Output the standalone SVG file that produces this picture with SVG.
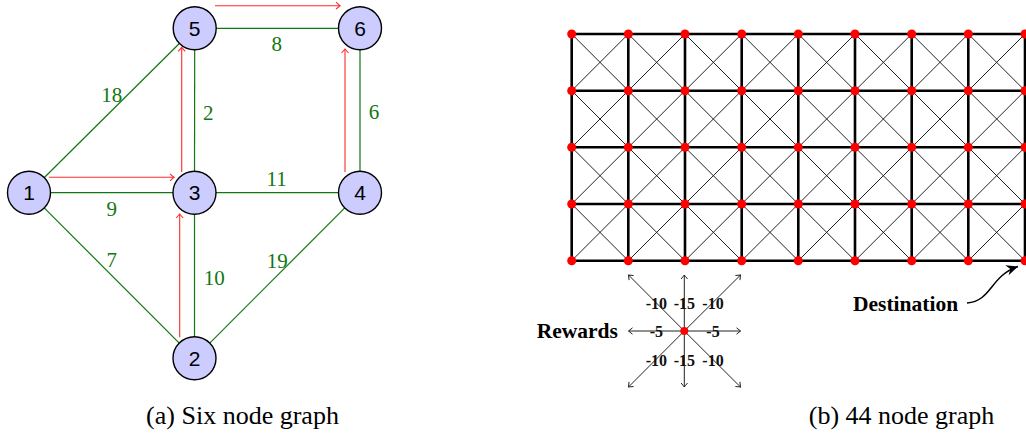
<svg xmlns="http://www.w3.org/2000/svg" width="1026" height="436" viewBox="0 0 1026 436">
<style>
.edge{stroke:#117711;stroke-width:1.2;fill:none}
.red{stroke:#ff2a2a;stroke-width:1.1;fill:none;marker-end:url(#ra)}
.node circle{fill:#ccccff;stroke:#000;stroke-width:1.4}
.node text{font-family:"Liberation Sans",Arial,sans-serif;font-size:21px;text-anchor:middle;fill:#000}
.elabel{font-family:"Liberation Serif","Times New Roman",serif;font-size:21px;fill:#117711;text-anchor:middle}
.thick{stroke:#000;stroke-width:2.6;fill:none}
.diag{stroke:#222;stroke-width:1;fill:none}
.dot{fill:#ff0000}
.rw{stroke:#222;stroke-width:1;fill:none;marker-end:url(#ka)}
.rl{font-family:"Liberation Serif","Times New Roman",serif;font-weight:bold;font-size:16px;text-anchor:middle;fill:#111}
.big{font-family:"Liberation Serif","Times New Roman",serif;font-weight:bold;font-size:21.5px;fill:#000}
.cap{font-family:"Liberation Serif","Times New Roman",serif;font-size:26px;text-anchor:middle;fill:#000}
</style>
<defs>
<marker id="ra" markerUnits="userSpaceOnUse" markerWidth="10" markerHeight="10" viewBox="-6 -5 7 10" refX="0" refY="0" orient="auto">
<path d="M-4,-3.5 Q-1,-0.8 0,0 Q-1,0.8 -4,3.5" fill="none" stroke="#ff2a2a" stroke-width="1.1"/>
</marker>
<marker id="ka" markerUnits="userSpaceOnUse" markerWidth="10" markerHeight="10" viewBox="-6 -5 7 10" refX="0" refY="0" orient="auto">
<path d="M-4,-3.2 Q-1,-0.8 0,0 Q-1,0.8 -4,3.2" fill="none" stroke="#222" stroke-width="1"/>
</marker>
<marker id="sa" markerUnits="userSpaceOnUse" markerWidth="14" markerHeight="14" viewBox="-10 -6 11 12" refX="0" refY="0" orient="auto">
<path d="M0,0 L-10,-4.5 L-7,0 L-10,4.5 Z" fill="#000"/>
</marker>
</defs>

<g id="connectors">
<line class="edge" x1="29" y1="192.7" x2="194.7" y2="28.3"/>
<line class="edge" x1="29" y1="192.7" x2="194.5" y2="192.7"/>
<line class="edge" x1="194.7" y1="28.3" x2="194.5" y2="192.7"/>
<line class="edge" x1="194.7" y1="28.3" x2="360" y2="28.3"/>
<line class="edge" x1="360" y1="28.3" x2="360" y2="192.7"/>
<line class="edge" x1="194.5" y1="192.7" x2="360" y2="192.7"/>
<line class="edge" x1="29" y1="192.7" x2="194.5" y2="358.3"/>
<line class="edge" x1="194.5" y1="192.7" x2="194.5" y2="358.3"/>
<line class="edge" x1="360" y1="192.7" x2="194.5" y2="358.3"/>
<line class="red" x1="49" y1="177.3" x2="174" y2="177.3"/>
<line class="red" x1="181.7" y1="172" x2="181.7" y2="47.3"/>
<line class="red" x1="215" y1="5.7" x2="340" y2="5.7"/>
<line class="red" x1="345" y1="172" x2="345" y2="49"/>
<line class="red" x1="179.7" y1="337.3" x2="179.7" y2="214"/>
</g>
<g id="edge-labels">
<text class="elabel" x="111.7" y="102.2">18</text>
<text class="elabel" x="208.3" y="120">2</text>
<text class="elabel" x="276.7" y="50.5">8</text>
<text class="elabel" x="374" y="119">6</text>
<text class="elabel" x="276.7" y="185.5">11</text>
<text class="elabel" x="111.7" y="215.5">9</text>
<text class="elabel" x="111.7" y="267">7</text>
<text class="elabel" x="214.3" y="284.5">10</text>
<text class="elabel" x="277.3" y="268">19</text>
</g>
<g id="node1" class="node"><circle cx="29" cy="192.7" r="21.5"/><text x="29" y="200.2">1</text></g>
<g id="node2" class="node"><circle cx="194.5" cy="358.3" r="21.5"/><text x="194.5" y="365.8">2</text></g>
<g id="node3" class="node"><circle cx="194.5" cy="192.7" r="21.5"/><text x="194.5" y="200.2">3</text></g>
<g id="node4" class="node"><circle cx="360" cy="192.7" r="21.5"/><text x="360" y="200.2">4</text></g>
<g id="node5" class="node"><circle cx="194.7" cy="28.3" r="21.5"/><text x="194.7" y="35.8">5</text></g>
<g id="node6" class="node"><circle cx="360" cy="28.3" r="21.5"/><text x="360" y="35.8">6</text></g>

<g id="grid">
<g class="diag">
<path d="M571.7,34 L798.3,260.7 M628.3,34 L855,260.7 M685,34 L911.7,260.7 M741.7,34 L968.3,260.7 M798.3,34 L1025,260.7 M855,34 L1025,204 M911.7,34 L1025,147.3 M968.3,34 L1025,90.7 M571.7,90.7 L741.7,260.7 M571.7,147.3 L685,260.7 M571.7,204 L628.3,260.7"/>
<path d="M1025,34 L798.3,260.7 M968.3,34 L741.7,260.7 M911.7,34 L685,260.7 M855,34 L628.3,260.7 M798.3,34 L571.7,260.7 M741.7,34 L571.7,204 M685,34 L571.7,147.3 M628.3,34 L571.7,90.7 M1025,90.7 L855,260.7 M1025,147.3 L911.7,260.7 M1025,204 L968.3,260.7"/>
</g>
<g class="thick">
<path d="M571.7,34 H1026 M571.7,90.7 H1026 M571.7,147.3 H1026 M571.7,204 H1026 M571.7,260.7 H1026"/>
<path d="M571.7,34 V260.7 M628.3,34 V260.7 M685,34 V260.7 M741.7,34 V260.7 M798.3,34 V260.7 M855,34 V260.7 M911.7,34 V260.7 M968.3,34 V260.7 M1025,34 V260.7"/>
</g>
<g class="dot">
<circle cx="571.7" cy="34" r="4.5"/><circle cx="628.3" cy="34" r="4.5"/><circle cx="685" cy="34" r="4.5"/><circle cx="741.7" cy="34" r="4.5"/><circle cx="798.3" cy="34" r="4.5"/><circle cx="855" cy="34" r="4.5"/><circle cx="911.7" cy="34" r="4.5"/><circle cx="968.3" cy="34" r="4.5"/><circle cx="1025" cy="34" r="4.5"/>
<circle cx="571.7" cy="90.7" r="4.5"/><circle cx="628.3" cy="90.7" r="4.5"/><circle cx="685" cy="90.7" r="4.5"/><circle cx="741.7" cy="90.7" r="4.5"/><circle cx="798.3" cy="90.7" r="4.5"/><circle cx="855" cy="90.7" r="4.5"/><circle cx="911.7" cy="90.7" r="4.5"/><circle cx="968.3" cy="90.7" r="4.5"/><circle cx="1025" cy="90.7" r="4.5"/>
<circle cx="571.7" cy="147.3" r="4.5"/><circle cx="628.3" cy="147.3" r="4.5"/><circle cx="685" cy="147.3" r="4.5"/><circle cx="741.7" cy="147.3" r="4.5"/><circle cx="798.3" cy="147.3" r="4.5"/><circle cx="855" cy="147.3" r="4.5"/><circle cx="911.7" cy="147.3" r="4.5"/><circle cx="968.3" cy="147.3" r="4.5"/><circle cx="1025" cy="147.3" r="4.5"/>
<circle cx="571.7" cy="204" r="4.5"/><circle cx="628.3" cy="204" r="4.5"/><circle cx="685" cy="204" r="4.5"/><circle cx="741.7" cy="204" r="4.5"/><circle cx="798.3" cy="204" r="4.5"/><circle cx="855" cy="204" r="4.5"/><circle cx="911.7" cy="204" r="4.5"/><circle cx="968.3" cy="204" r="4.5"/><circle cx="1025" cy="204" r="4.5"/>
<circle cx="571.7" cy="260.7" r="4.5"/><circle cx="628.3" cy="260.7" r="4.5"/><circle cx="685" cy="260.7" r="4.5"/><circle cx="741.7" cy="260.7" r="4.5"/><circle cx="798.3" cy="260.7" r="4.5"/><circle cx="855" cy="260.7" r="4.5"/><circle cx="911.7" cy="260.7" r="4.5"/><circle cx="968.3" cy="260.7" r="4.5"/><circle cx="1025" cy="260.7" r="4.5"/>
</g>
</g>

<g id="rewards">
<line class="rw" x1="684.3" y1="331" x2="628.5" y2="331"/>
<line class="rw" x1="684.3" y1="331" x2="740.5" y2="331"/>
<line class="rw" x1="684.3" y1="331" x2="684.3" y2="275"/>
<line class="rw" x1="684.3" y1="331" x2="684.3" y2="387"/>
<line class="rw" x1="684.3" y1="331" x2="628.5" y2="275"/>
<line class="rw" x1="684.3" y1="331" x2="740.5" y2="275"/>
<line class="rw" x1="684.3" y1="331" x2="628.5" y2="387"/>
<line class="rw" x1="684.3" y1="331" x2="740.5" y2="387"/>
<circle class="dot" cx="684.3" cy="331" r="4"/>
<text class="rl" x="656.3" y="309">-10</text>
<text class="rl" x="684.3" y="309">-15</text>
<text class="rl" x="713" y="309">-10</text>
<text class="rl" x="656.3" y="337">-5</text>
<text class="rl" x="713" y="337">-5</text>
<text class="rl" x="656.3" y="365.7">-10</text>
<text class="rl" x="684.3" y="365.7">-15</text>
<text class="rl" x="713" y="365.7">-10</text>
<text class="big" x="536.7" y="338">Rewards</text>
</g>

<g id="destination">
<text class="big" x="853" y="310.7">Destination</text>
<path d="M967,303 C992,301 990,276 1018,266.5" fill="none" stroke="#000" stroke-width="1.5" marker-end="url(#sa)"/>
</g>

<text class="cap" x="242.5" y="424">(a) Six node graph</text>
<text class="cap" x="901.5" y="424">(b) 44 node graph</text>
</svg>
